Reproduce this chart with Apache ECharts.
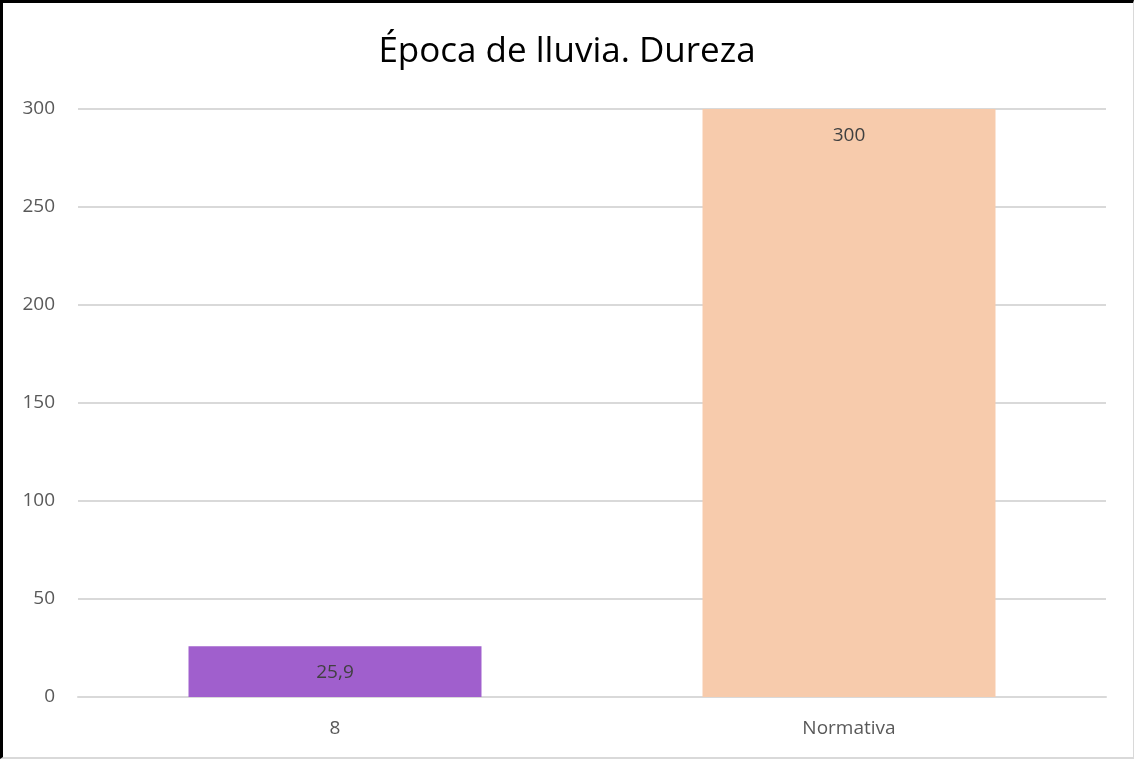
<!DOCTYPE html>
<html>
<head>
<meta charset="utf-8">
<script src="https://cdn.jsdelivr.net/npm/echarts@6/dist/echarts.min.js"></script>
<style>
    html,body{margin:0;padding:0;background:#fff;}
    .com-container{position:relative;width:1134px;height:759px;}
    .com-chart{width:100%;height:100%;}
    .frame{position:absolute;left:0;top:0;right:0;bottom:0;box-sizing:border-box;
        border-left:3px solid #000;border-top:3px solid #000;
        border-right:1px solid #d9d9d9;border-bottom:2px solid #d9d9d9;pointer-events:none;}
</style>
</head>
<body>
<div class="com-container">
    <div class="com-chart" id="chart"></div>
    <div class="frame"></div>
</div>
<script>
// datos del gráfico
const categories = ['8', 'Normativa']
const values = [25.9, 300]
const barColors = ['#A05FCD', '#F7CBAC']
const yTicks = [0, 50, 100, 150, 200, 250, 300]

const chartInstance = echarts.init(document.getElementById('chart'))
const option = {
    backgroundColor: '#fff',
    animation: false,
    title: {
        text: 'Época de lluvia. Dureza',
        left: 'center',
        top: 30,
        textStyle: {
            fontFamily: 'Open Sans',
            fontSize: 35,
            fontWeight: 'normal',
            color: '#000'
        }
    },
    grid: {
        top: 109,
        left: 78,
        right: 28,
        bottom: 62
    },
    xAxis: {
        type: 'category',
        data: categories,
        axisLine: { lineStyle: { color: '#d9d9d9', width: 2 } },
        axisTick: { show: false },
        axisLabel: {
            color: '#595959',
            fontSize: 19,
            fontFamily: 'Open Sans',
            margin: 22
        }
    },
    yAxis: {
        type: 'value',
        min: yTicks[0],
        max: yTicks[yTicks.length - 1],
        interval: 50,
        axisLine: { show: false },
        axisTick: { show: false },
        splitLine: { lineStyle: { color: '#d9d9d9', width: 2 } },
        axisLabel: {
            color: '#595959',
            fontSize: 19,
            fontFamily: 'Open Sans',
            margin: 23
        }
    },
    series: [{
        type: 'bar',
        barWidth: '57%',
        data: values.map((v, i) => ({ value: v, itemStyle: { color: barColors[i] } })),
        label: {
            show: true,
            position: 'insideTop',
            distance: 17,
            color: '#404040',
            fontSize: 19,
            fontFamily: 'Open Sans',
            formatter: (p) => String(p.value).replace('.', ',')
        }
    }]
}
chartInstance.setOption(option)
</script>
</body>
</html>
